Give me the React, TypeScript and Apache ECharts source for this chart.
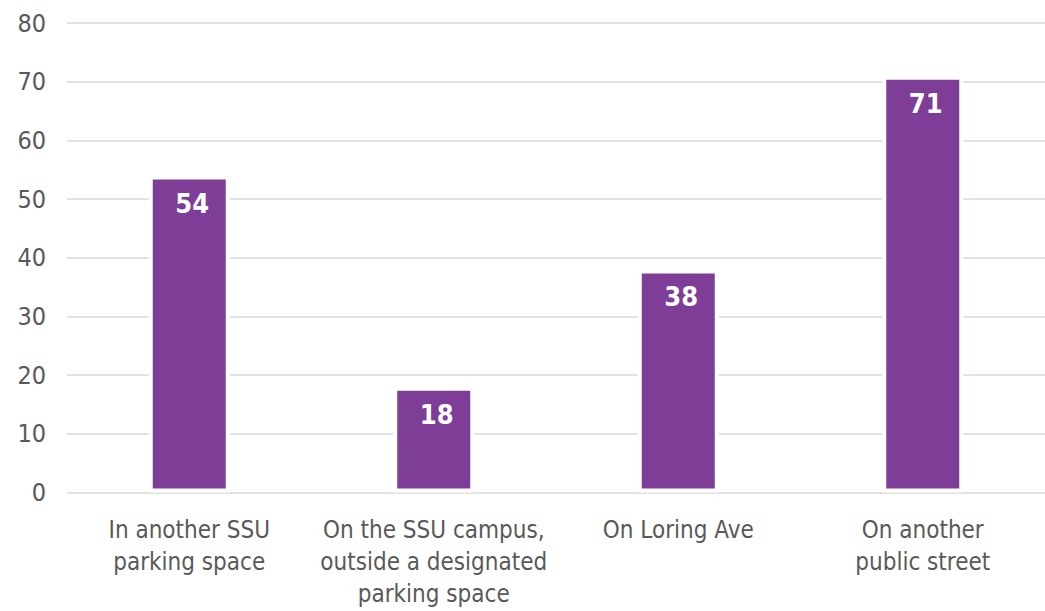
import React, { useEffect, useRef } from "react";
import * as echarts from "echarts";

const categories: string[] = [
  "In another SSU\nparking space",
  "On the SSU campus,\noutside a designated\nparking space",
  "On Loring Ave",
  "On another\npublic street",
];
const values: number[] = [54, 18, 38, 71];
const yTicks = { min: 0, max: 80, interval: 10 };

const FONT = '"Liberation Sans Narrow", "Arial Narrow", "DejaVu Sans Condensed", sans-serif';

export default function App() {
  const ref = useRef<HTMLDivElement>(null);
  useEffect(() => {
    if (!ref.current) return;
    const chart = echarts.init(ref.current, null, { renderer: "svg" });
    chart.setOption({
      animation: false,
      backgroundColor: "#ffffff",
      grid: { left: 67, right: 0, top: 23, bottom: 118.5, containLabel: false },
      xAxis: {
        type: "category",
        data: categories,
        axisLine: { show: false },
        axisTick: { show: false },
        axisLabel: {
          color: "#595959",
          fontFamily: FONT,
          fontSize: 24,
          lineHeight: 32,
          margin: 21,
          interval: 0,
        },
      },
      yAxis: {
        type: "value",
        min: yTicks.min,
        max: yTicks.max,
        interval: yTicks.interval,
        axisLine: { show: false },
        axisTick: { show: false },
        splitLine: { lineStyle: { color: "#d9d9d9", width: 1.5 } },
        axisLabel: {
          color: "#595959",
          fontFamily: FONT,
          fontSize: 25,
          margin: 21,
        },
      },
      series: [
        {
          type: "bar",
          data: values,
          barWidth: 81,
          itemStyle: { color: "#7E3D97", borderColor: "#ffffff", borderWidth: 4 },
          label: {
            show: true,
            position: "insideTop",
            distance: 14,
            offset: [3, 0],
            color: "#ffffff",
            fontFamily: FONT,
            fontWeight: "bold",
            fontSize: 27,
            formatter: (p: any) => String(Math.round(p.value)),
          },
        },
      ],
    });
    return () => chart.dispose();
  }, []);
  return (
    <div
      ref={ref}
      style={{ position: "fixed", left: 0, top: 0, width: 1045, height: 611 }}
    />
  );
}
